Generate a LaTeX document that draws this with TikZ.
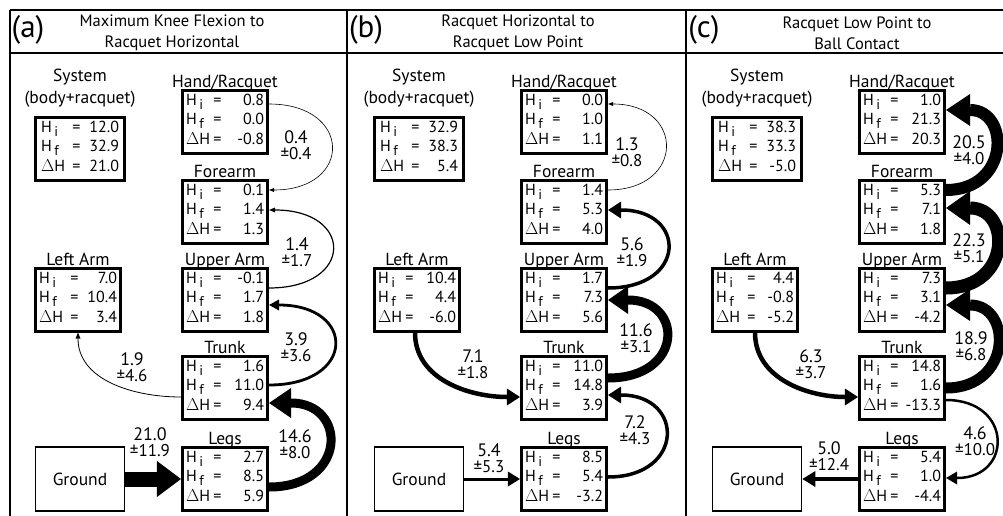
\documentclass[tikz,border=0pt]{standalone}
\usepackage{fontspec}
\setmainfont{PT Sans}
\usetikzlibrary{arrows.meta, positioning}

\newcommand{\Hsub}[1]{\,\raisebox{-4pt}{\fontsize{14}{14}\selectfont #1}}
\newcommand{\Hrow}[3][27pt]{\makebox[#1][l]{#2}\makebox[9pt][c]{=}\makebox[\dimexpr 69pt-#1\relax][r]{#3}}
\newcommand{\Hvals}[4][27pt]{\Hrow[#1]{H\Hsub{i}}{#2}\\\Hrow[#1]{H\Hsub{f}}{#3}\\\Hrow[#1]{$\Delta$H}{#4}\rule[-6pt]{0pt}{6pt}}
\newcommand{\pmv}[1]{{\fontsize{17}{16}\selectfont ±#1}}

\begin{document}
\begin{tikzpicture}[x=1pt, y=-1pt,
	seg/.style		={draw, line width=2.6pt, minimum width=85.5pt, minimum height=62.5pt,
					  inner xsep=2pt, inner ysep=1pt, align=left, font=\fontsize{16}{19.5}\selectfont},
	sys/.style		={seg, minimum width=88.5pt, minimum height=63.5pt},
	gnd/.style		={draw, line width=1.8pt, minimum width=89pt, minimum height=64pt,
					  font=\fontsize{17.5}{19}\selectfont},
	lbl/.style		={inner sep=0pt, font=\fontsize{17.5}{22}\selectfont},
	num/.style		={inner sep=0pt, align=center, font=\fontsize{18}{16}\selectfont},
	hdr/.style		={inner sep=0pt, font=\fontsize{31}{32}\selectfont},
	ttl/.style		={inner sep=0pt, align=center, font=\fontsize{16.5}{21}\selectfont},
	frame/.style	={line width=2pt},
	flow/.style n args={3}{line width=#1, -{Triangle[length=#2, width=#3, line width=0pt]}}]

	\useasboundingbox (0,0) rectangle (1003,516);

	% panel frames
	\draw[frame] (10,10) -- (1003,10);
	\draw[frame] (10,53) -- (1003,53);
	\draw[frame] (10,10) -- (10,516);
	\draw[frame] (347,10) -- (347,516);
	\draw[frame] (686,10) -- (686,516);

	% (a)
	\node[hdr]	(aTag)		at (28,30)	{(a)};
	\node[ttl]	(aTitle)	at (172,33)	{Maximum Knee Flexion to\\Racquet Horizontal};
	\node[sys]	(aSys)		at (80,149)	{\Hvals[31pt]{12.0}{32.9}{21.0}};
	\node[seg]	(aHand)		at (225,122)	{\Hvals{0.8}{0.0}{-0.8}};
	\node[seg]	(aFore)		at (225,212)	{\Hvals{0.1}{1.4}{1.3}};
	\node[seg]	(aUpper)	at (225,300)	{\Hvals{-0.1}{1.7}{1.8}};
	\node[seg]	(aTrunk)	at (225,388)	{\Hvals{1.6}{11.0}{9.4}};
	\node[seg]	(aLegs)		at (225,479)	{\Hvals{2.7}{8.5}{5.9}};
	\node[seg]	(aLeft)		at (78,300)	{\Hvals[31pt]{7.0}{10.4}{3.4}};
	\node[gnd]	(aGround)	at (80,479)	{Ground};

	\node[lbl, align=center, above=8pt of aSys]	(aSysL)		{System\\(body+racquet)};
	\node[lbl, above=2pt of aHand, anchor=base]		(aHandL)	{Hand/Racquet};
	\node[lbl, above=2pt of aFore, anchor=base]		(aForeL)	{Forearm};
	\node[lbl, above=2pt of aUpper, anchor=base]	(aUpperL)	{Upper Arm};
	\node[lbl, above=2pt of aTrunk, anchor=base]	(aTrunkL)	{Trunk};
	\node[lbl, above=2pt of aLegs, anchor=base]		(aLegsL)	{Legs};
	\node[lbl, above=2pt of aLeft, anchor=base]		(aLeftL)	{Left Arm};

	\draw[flow={0.6pt}{5pt}{4pt}]	([yshift=18pt]aHand.east)	to[out=0, in=0, looseness=2.5]	([yshift=22pt]aFore.east);
	\draw[flow={1.2pt}{6pt}{5pt}]	([yshift=12pt]aUpper.east)	to[out=0, in=0, looseness=2.8]	([yshift=2pt]aFore.east);
	\draw[flow={2.8pt}{10pt}{11pt}]	([yshift=3pt]aTrunk.east)	to[out=0, in=0, looseness=2.8]	([yshift=-5pt]aUpper.east);
	\draw[flow={0.8pt}{6pt}{5pt}]	([yshift=-9pt]aTrunk.west)	to[out=180, in=-90]				(aLeft.south);
	\draw[flow={9pt}{22pt}{30pt}]	([yshift=-8pt]aLegs.east)	to[out=0, in=0, looseness=2.4]	([yshift=-15pt]aTrunk.east);
	\draw[flow={15pt}{24pt}{36pt}]	(aGround.east)				--								(aLegs.west);

	\node[num]	(aN1)	at (296,145)	{0.4\\\pmv{0.4}};
	\node[num]	(aN2)	at (297,252)	{1.4\\\pmv{1.7}};
	\node[num]	(aN3)	at (296,347)	{3.9\\\pmv{3.6}};
	\node[num]	(aN4)	at (132,367)	{1.9\\\pmv{4.6}};
	\node[num]	(aN5)	at (295,444)	{14.6\\\pmv{8.0}};
	\node[num]	(aN6)	at (150,442)	{21.0\\\pmv{11.9}};

	% (b)
	\begin{scope}[xshift=339pt]
	\node[hdr]	(bTag)		at (27,30)	{(b)};
	\node[ttl]	(bTitle)	at (179,33)	{Racquet Horizontal to\\Racquet Low Point};
	\node[sys]	(bSys)		at (80,149)	{\Hvals[31pt]{32.9}{38.3}{5.4}};
	\node[seg]	(bHand)		at (225,122)	{\Hvals{0.0}{1.0}{1.1}};
	\node[seg]	(bFore)		at (225,212)	{\Hvals{1.4}{5.3}{4.0}};
	\node[seg]	(bUpper)	at (225,300)	{\Hvals{1.7}{7.3}{5.6}};
	\node[seg]	(bTrunk)	at (225,388)	{\Hvals{11.0}{14.8}{3.9}};
	\node[seg]	(bLegs)		at (225,479)	{\Hvals{8.5}{5.4}{-3.2}};
	\node[seg]	(bLeft)		at (78,300)	{\Hvals{10.4}{4.4}{-6.0}};
	\node[gnd]	(bGround)	at (80,479)	{Ground};

	\node[lbl, align=center, above=8pt of bSys]	(bSysL)		{System\\(body+racquet)};
	\node[lbl, above=2pt of bHand, anchor=base]		(bHandL)	{Hand/Racquet};
	\node[lbl, above=2pt of bFore, anchor=base]		(bForeL)	{Forearm};
	\node[lbl, above=2pt of bUpper, anchor=base]	(bUpperL)	{Upper Arm};
	\node[lbl, above=2pt of bTrunk, anchor=base]	(bTrunkL)	{Trunk};
	\node[lbl, above=2pt of bLegs, anchor=base]		(bLegsL)	{Legs};
	\node[lbl, above=2pt of bLeft, anchor=base]		(bLeftL)	{Left Arm};

	\draw[flow={0.6pt}{5pt}{4pt}]	([yshift=22pt]bFore.east)	to[out=0, in=0, looseness=2.3]	([yshift=18pt]bHand.east);
	\draw[flow={3.5pt}{13pt}{17pt}]	([yshift=12pt]bUpper.east)	to[out=0, in=0, looseness=2.6]	([yshift=2pt]bFore.east);
	\draw[flow={9pt}{20pt}{28pt}]	([yshift=10pt]bTrunk.east)	to[out=0, in=0, looseness=2.5]	(bUpper.east);
	\draw[flow={4.5pt}{13pt}{17pt}]	([xshift=-2pt]bLeft.south)	to[out=-90, in=180]				([yshift=-9pt]bTrunk.west);
	\draw[flow={3.5pt}{13pt}{17pt}]	([yshift=2pt]bLegs.east)	to[out=0, in=0, looseness=2.4]	([yshift=-7pt]bTrunk.east);
	\draw[flow={3pt}{12pt}{15pt}]	(bGround.east)				--								(bLegs.west);

	\node[num]	(bN1)	at (288,152)	{1.3\\\pmv{0.8}};
	\node[num]	(bN2)	at (293,252)	{5.6\\\pmv{1.9}};
	\node[num]	(bN3)	at (297,338)	{11.6\\\pmv{3.1}};
	\node[num]	(bN4)	at (134,364)	{7.1\\\pmv{1.8}};
	\node[num]	(bN5)	at (296,430)	{7.2\\\pmv{4.3}};
	\node[num]	(bN6)	at (150,458)	{5.4\\\pmv{5.3}};
	\end{scope}

	% (c)
	\begin{scope}[xshift=677pt]
	\node[hdr]	(cTag)		at (27,30)	{(c)};
	\node[ttl]	(cTitle)	at (180,33)	{Racquet Low Point to\\Ball Contact};
	\node[sys]	(cSys)		at (80,149)	{\Hvals[31pt]{38.3}{33.3}{-5.0}};
	\node[seg]	(cHand)		at (225,122)	{\Hvals{1.0}{21.3}{20.3}};
	\node[seg]	(cFore)		at (225,212)	{\Hvals{5.3}{7.1}{1.8}};
	\node[seg]	(cUpper)	at (225,300)	{\Hvals{7.3}{3.1}{-4.2}};
	\node[seg]	(cTrunk)	at (225,388)	{\Hvals{14.8}{1.6}{-13.3}};
	\node[seg]	(cLegs)		at (225,479)	{\Hvals{5.4}{1.0}{-4.4}};
	\node[seg]	(cLeft)		at (78,300)	{\Hvals[31pt]{4.4}{-0.8}{-5.2}};
	\node[gnd]	(cGround)	at (80,479)	{Ground};

	\node[lbl, align=center, above=8pt of cSys]	(cSysL)		{System\\(body+racquet)};
	\node[lbl, above=2pt of cHand, anchor=base]		(cHandL)	{Hand/Racquet};
	\node[lbl, above=2pt of cFore, anchor=base]		(cForeL)	{Forearm};
	\node[lbl, above=2pt of cUpper, anchor=base]	(cUpperL)	{Upper Arm};
	\node[lbl, above=2pt of cTrunk, anchor=base]	(cTrunkL)	{Trunk};
	\node[lbl, above=2pt of cLegs, anchor=base]		(cLegsL)	{Legs};
	\node[lbl, above=2pt of cLeft, anchor=base]		(cLeftL)	{Left Arm};

	\draw[flow={12pt}{24pt}{32pt}]	([yshift=22pt]cFore.east)	to[out=0, in=0, looseness=2.05]	([yshift=12pt]cHand.east);
	\draw[flow={13pt}{24pt}{34pt}]	([yshift=12pt]cUpper.east)	to[out=0, in=0, looseness=2.1]	([yshift=4pt]cFore.east);
	\draw[flow={11pt}{24pt}{32pt}]	(cTrunk.east)				to[out=0, in=0, looseness=2.05]	([yshift=-5pt]cUpper.east);
	\draw[flow={2.5pt}{11pt}{13pt}]	([yshift=-12pt]cTrunk.east)	to[out=0, in=0, looseness=2.2]	([yshift=1pt]cLegs.east);
	\draw[flow={4.5pt}{13pt}{17pt}]	(cLeft.south)				to[out=-90, in=180]				([yshift=-9pt]cTrunk.west);
	\draw[flow={3.5pt}{13pt}{16pt}]	(cLegs.west)				--								(cGround.east);

	\node[num]	(cN1)	at (292,150)	{20.5\\\pmv{4.0}};
	\node[num]	(cN2)	at (292,248)	{22.3\\\pmv{5.1}};
	\node[num]	(cN3)	at (294,346)	{18.9\\\pmv{6.8}};
	\node[num]	(cN4)	at (298,441)	{4.6\\\pmv{10.0}};
	\node[num]	(cN5)	at (134,364)	{6.3\\\pmv{3.7}};
	\node[num]	(cN6)	at (152,456)	{5.0\\\pmv{12.4}};
	\end{scope}
\end{tikzpicture}
\end{document}
